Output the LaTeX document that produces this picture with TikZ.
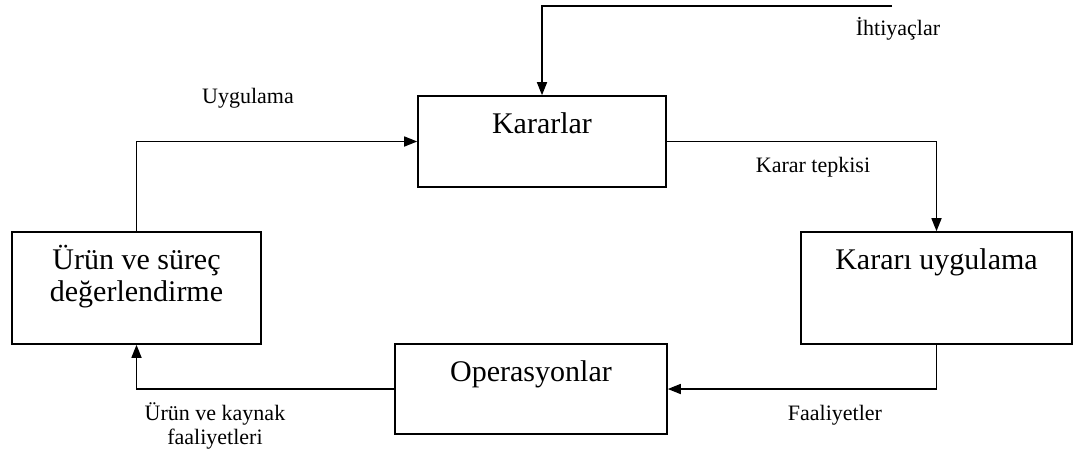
\documentclass[tikz,border=0pt]{standalone}
\usepackage{fontspec}
\setmainfont{Liberation Serif}
\usetikzlibrary{arrows.meta}
\begin{document}
\begin{tikzpicture}[x=1pt,y=-1pt,
  box/.style={draw, line width=1.6pt, inner sep=0pt},
  boxtext/.style={anchor=base, font=\fontsize{30}{32}\selectfont, inner sep=0pt},
  lbl/.style={anchor=base, font=\fontsize{22}{25}\selectfont, inner sep=0pt},
  conn/.style={line width=1.6pt, -{Triangle[length=13pt,width=10pt]}},
]
\useasboundingbox (0,0) rectangle (1074,451);
% boxes
\node[box, minimum width=248pt, minimum height=91pt] (kar) at (542,141.5) {};
\node[box, minimum width=271pt, minimum height=112pt] (kdec) at (936.5,288) {};
\node[box, minimum width=249pt, minimum height=112pt] (urun) at (136.5,288) {};
\node[box, minimum width=272pt, minimum height=90pt] (ops) at (531,389) {};
% box texts
\node[boxtext] (karT) at ([yshift=-38pt]kar.north) {Kararlar};
\node[boxtext] (kdecT) at ([yshift=-38pt]kdec.north) {Kararı uygulama};
\node[boxtext] (urunT1) at ([yshift=-38pt]urun.north) {Ürün ve süreç};
\node[boxtext] (urunT2) at ([yshift=-70pt]urun.north) {değerlendirme};
\node[boxtext] (opsT) at ([yshift=-38pt]ops.north) {Operasyonlar};
% connectors
\coordinate (ihtStart) at (892,6);
\draw[conn] (ihtStart) -| (kar.north);
\draw[conn] (urun.north) |- (kar.west);
\draw[conn] (kar.east) -| (kdec.north);
\draw[conn] (kdec.south) |- (ops.east);
\draw[conn] (ops.west) -| (urun.south);
% labels
\node[lbl] (lIht) at (898,35) {İhtiyaçlar};
\node[lbl] (lUyg) at (248,103) {Uygulama};
\node[lbl] (lTep) at (813,172) {Karar tepkisi};
\node[lbl] (lFaa) at (835,420) {Faaliyetler};
\node[lbl] (lUrk1) at (215,420) {Ürün ve kaynak};
\node[lbl] (lUrk2) at (215,444) {faaliyetleri};
\end{tikzpicture}
\end{document}
